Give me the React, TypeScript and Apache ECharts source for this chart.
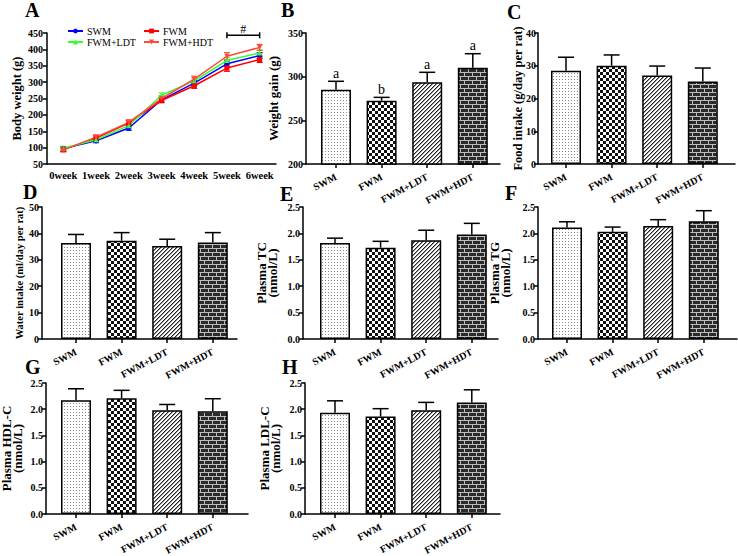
import React, { useEffect, useRef } from 'react';
import * as echarts from 'echarts';

// ---------- data ----------
const weeks = ['0week', '1week', '2week', '3week', '4week', '5week', '6week'];
const groups = ['SWM', 'FWM', 'FWM+LDT', 'FWM+HDT'];

// Panel A: body weight (g)
const bwSWM = [97, 121, 160, 246, 297, 356, 381];
const bwFWM = [94, 129, 175, 244, 289, 343, 369];
const bwLDT = [98, 124, 167, 260, 304, 366, 389];
const bwHDT = [93, 132, 177, 250, 309, 379, 406];
const sdSWM = [6, 6, 7, 7, 8, 9, 9];
const sdFWM = [6, 7, 8, 7, 8, 10, 9];
const sdLDT = [6, 6, 7, 7, 8, 9, 9];
const sdHDT = [6, 7, 8, 8, 9, 11, 9];
const bracket = [5, 6, 443]; // '#' between 5week and 6week at 443 g

// Panel B: weight gain (g)
const gainMean = [285, 272.5, 293.5, 310.3];
const gainSd = [9.7, 3.8, 11.5, 16];
const gainLetters = ['a', 'b', 'a', 'a'];
// Panel C: food intake
const foodMean = [28.5, 30.0, 27.0, 25.2];
const foodSd = [4.1, 3.3, 2.9, 4.1];
// Panel D: water intake
const waterMean = [36.4, 37.2, 35.2, 36.6];
const waterSd = [3.2, 3.1, 2.6, 3.7];
// Panel E: plasma TC
const tcMean = [1.82, 1.73, 1.87, 1.98];
const tcSd = [0.09, 0.12, 0.19, 0.21];
// Panel F: plasma TG
const tgMean = [2.11, 2.03, 2.14, 2.23];
const tgSd = [0.11, 0.09, 0.12, 0.2];
// Panel G: plasma HDL-C
const hdlMean = [2.17, 2.21, 1.98, 1.96];
const hdlSd = [0.22, 0.15, 0.11, 0.24];
// Panel H: plasma LDL-C
const ldlMean = [1.93, 1.86, 1.98, 2.13];
const ldlSd = [0.23, 0.15, 0.15, 0.24];

// ---------- style / layout ----------
const FONT = '"Liberation Serif", "Times New Roman", serif';
const lineColors = ['#0000ff', '#ff0000', '#33ff33', '#ff4a3a'];
const lineSymbols = ['circle', 'rect', 'triangle', 'path://M0,0L10,0L5,9Z'];
const S = 45.6; // px between bar centres

const barPanels = [
  { mean: gainMean, sd: gainSd, letters: gainLetters, name: 'Weight gain (g)', nfs: 13, min: 200, max: 350, interval: 50, dec: 0, ax: 306, end: 500, c0: 336, top: 33, bottom: 164, gap: 27, lm: 3 },
  { mean: foodMean, sd: foodSd, name: 'Food intake (g/day per rat)', nfs: 12.5, min: 0, max: 40, interval: 10, dec: 0, ax: 538, end: 735, c0: 566, top: 33, bottom: 164, gap: 15, lm: 2 },
  { mean: waterMean, sd: waterSd, name: 'Water intake (ml/day per rat)', nfs: 10.5, min: 0, max: 50, interval: 10, dec: 0, ax: 42, end: 237, c0: 76, top: 207, bottom: 339, gap: 17, lm: 3 },
  { mean: tcMean, sd: tcSd, name: 'Plasma TC\n(nmol/L)', nfs: 13, min: 0, max: 2.5, interval: 0.5, dec: 1, ax: 303, end: 498, c0: 335, top: 207, bottom: 339, gap: 25, lm: 3 },
  { mean: tgMean, sd: tgSd, name: 'Plasma TG\n(nmol/L)', nfs: 13, min: 0, max: 2.5, interval: 0.5, dec: 1, ax: 538, end: 737, c0: 567, top: 207, bottom: 339, gap: 27, lm: 3 },
  { mean: hdlMean, sd: hdlSd, name: 'Plasma HDL-C\n(nmol/L)', nfs: 13, min: 0, max: 2.5, interval: 0.5, dec: 1, ax: 46, end: 248, c0: 76, top: 383, bottom: 514, gap: 23, lm: 3 },
  { mean: ldlMean, sd: ldlSd, name: 'Plasma LDL-C\n(nmol/L)', nfs: 13, min: 0, max: 2.5, interval: 0.5, dec: 1, ax: 305, end: 500, c0: 335, top: 383, bottom: 514, gap: 24, lm: 3 },
];

const panelLetters: [string, number, number][] = [
  ['A', 25, 2.5], ['B', 281, 2.5], ['C', 507, 4], ['D', 23, 184],
  ['E', 280, 186.5], ['F', 505, 185], ['G', 25, 359], ['H', 282, 359],
];

const axisLineStyle = { color: '#000', width: 1.5 };
const labelStyle = { color: '#000', fontFamily: FONT, fontWeight: 'bold', fontSize: 10 };

export default function App() {
  const ref = useRef<HTMLDivElement>(null);
  useEffect(() => {
    document.body.style.margin = '0';
    const chart = echarts.init(ref.current!, null, { renderer: 'svg' });

    const tile = (w: number, h: number, draw: (c: CanvasRenderingContext2D) => void) => {
      const cv = document.createElement('canvas');
      cv.width = w;
      cv.height = h;
      const ctx = cv.getContext('2d')!;
      draw(ctx);
      return { image: cv.toDataURL(), repeat: 'repeat', imageWidth: w, imageHeight: h };
    };
    const patterns = [
      tile(3, 3, (c) => { c.fillStyle = '#fff'; c.fillRect(0, 0, 3, 3); c.fillStyle = '#8a8a8a'; c.fillRect(1, 1, 1, 1); }),
      tile(6, 6, (c) => { c.fillStyle = '#fff'; c.fillRect(0, 0, 6, 6); c.fillStyle = '#111'; c.fillRect(0, 0, 3, 3); c.fillRect(3, 3, 3, 3); }),
      tile(4, 4, (c) => {
        c.fillStyle = '#fff'; c.fillRect(0, 0, 4, 4);
        for (let i = 0; i < 4; i++) { c.fillStyle = '#222'; c.fillRect(i, 3 - i, 1, 1); c.fillStyle = '#999'; c.fillRect(i, (4 - i) % 4, 1, 1); }
      }),
      tile(8, 8, (c) => {
        c.fillStyle = '#2a2a2a'; c.fillRect(0, 0, 8, 8);
        c.fillStyle = '#bdbdbd';
        c.fillRect(0, 0, 8, 1); c.fillRect(0, 4, 8, 1); c.fillRect(0, 1, 1, 3); c.fillRect(4, 5, 1, 3);
      }),
    ];

    const grids: any[] = [];
    const xAxes: any[] = [];
    const yAxes: any[] = [];
    const series: any[] = [];

    // ----- Panel A -----
    grids.push({ left: 47, top: 33, width: 229, height: 131, outerBoundsMode: 'none' });
    xAxes.push({
      type: 'category', gridIndex: 0, data: weeks, boundaryGap: true,
      axisLine: { onZero: false, lineStyle: axisLineStyle },
      axisTick: { alignWithLabel: true, length: 4, lineStyle: axisLineStyle },
      axisLabel: { ...labelStyle, fontSize: 10.5, margin: 6, interval: 0 },
      splitLine: { show: false },
    });
    yAxes.push({
      type: 'value', gridIndex: 0, min: 50, max: 450, interval: 50,
      axisLine: { show: true, onZero: false, lineStyle: axisLineStyle },
      axisTick: { show: true, length: 4, lineStyle: axisLineStyle },
      axisLabel: { ...labelStyle, margin: 4 },
      splitLine: { show: false },
      name: 'Body weight (g)', nameLocation: 'middle', nameGap: 24, nameMoveOverlap: false,
      nameTextStyle: { color: '#000', fontFamily: FONT, fontWeight: 'bold', fontSize: 12.5 },
    });
    const aMeans = [bwSWM, bwFWM, bwLDT, bwHDT];
    const aSds = [sdSWM, sdFWM, sdLDT, sdHDT];
    aMeans.forEach((d, k) => {
      const col = lineColors[k];
      series.push({
        type: 'custom', xAxisIndex: 0, yAxisIndex: 0, silent: true, z: 2,
        data: d.map((v, i) => [i, v - aSds[k][i], v + aSds[k][i]]),
        encode: { x: 0, y: [1, 2] },
        renderItem: (_p: any, api: any) => {
          const lo = api.coord([api.value(0), api.value(1)]);
          const hi = api.coord([api.value(0), api.value(2)]);
          const st = { stroke: col, lineWidth: 1.2 };
          return {
            type: 'group', children: [
              { type: 'line', shape: { x1: lo[0], y1: lo[1], x2: hi[0], y2: hi[1] }, style: st },
              { type: 'line', shape: { x1: lo[0] - 3, y1: lo[1], x2: lo[0] + 3, y2: lo[1] }, style: st },
              { type: 'line', shape: { x1: hi[0] - 3, y1: hi[1], x2: hi[0] + 3, y2: hi[1] }, style: st },
            ],
          };
        },
      });
      series.push({
        type: 'line', name: groups[k], xAxisIndex: 0, yAxisIndex: 0, data: d, z: 3,
        symbol: lineSymbols[k], symbolSize: 5, showAllSymbol: true,
        lineStyle: { color: col, width: 1.5 }, itemStyle: { color: col },
      });
    });
    series.push({
      type: 'custom', xAxisIndex: 0, yAxisIndex: 0, silent: true, z: 4,
      data: [bracket], encode: { x: [0, 1], y: 2 },
      renderItem: (_p: any, api: any) => {
        const a = api.coord([api.value(0), api.value(2)]);
        const b = api.coord([api.value(1), api.value(2)]);
        const st = { stroke: '#000', lineWidth: 1.5 };
        return {
          type: 'group', children: [
            { type: 'line', shape: { x1: a[0], y1: a[1], x2: b[0], y2: b[1] }, style: st },
            { type: 'line', shape: { x1: a[0], y1: a[1] - 3, x2: a[0], y2: a[1] + 3 }, style: st },
            { type: 'line', shape: { x1: b[0], y1: b[1] - 3, x2: b[0], y2: b[1] + 3 }, style: st },
            { type: 'text', x: (a[0] + b[0]) / 2, y: a[1], style: { text: '#', fill: '#000', font: `12px ${FONT}`, align: 'center', verticalAlign: 'bottom' } },
          ],
        };
      },
    });

    // ----- Bar panels -----
    barPanels.forEach((p, j) => {
      const gi = j + 1;
      const min = -(p.c0 - p.ax) / S;
      const max = min + (p.end - p.ax) / S;
      grids.push({ left: p.ax, top: p.top, width: p.end - p.ax, height: p.bottom - p.top, outerBoundsMode: 'none' });
      xAxes.push({
        type: 'value', gridIndex: gi, min, max,
        axisLine: { show: true, onZero: false, lineStyle: axisLineStyle },
        axisTick: { show: true, length: 4, lineStyle: axisLineStyle, customValues: [0, 1, 2, 3] },
        axisLabel: {
          ...labelStyle, rotate: 28, margin: 12, customValues: [0, 1, 2, 3],
          formatter: (v: number) => groups[Math.round(v)] ?? '',
        },
        splitLine: { show: false },
      });
      yAxes.push({
        type: 'value', gridIndex: gi, min: p.min, max: p.max, interval: p.interval,
        axisLine: { show: true, onZero: false, lineStyle: axisLineStyle },
        axisTick: { show: true, length: 4, lineStyle: axisLineStyle },
        axisLabel: { ...labelStyle, margin: p.lm, formatter: (v: number) => v.toFixed(p.dec) },
        splitLine: { show: false },
        name: p.name, nameLocation: 'middle', nameGap: p.gap, nameMoveOverlap: false,
        nameTextStyle: { color: '#000', fontFamily: FONT, fontWeight: 'bold', fontSize: p.nfs, lineHeight: 11 },
      });
      series.push({
        type: 'bar', xAxisIndex: gi, yAxisIndex: gi, barWidth: 30, z: 2, clip: true,
        data: p.mean.map((m, i) => ({ value: [i, m], itemStyle: { color: patterns[i] } })),
        itemStyle: { borderColor: '#000', borderWidth: 1.5 },
      });
      const letters = (p as any).letters as string[] | undefined;
      series.push({
        type: 'custom', xAxisIndex: gi, yAxisIndex: gi, silent: true, z: 3,
        data: p.mean.map((m, i) => [i, m, m + p.sd[i]]),
        encode: { x: 0, y: [1, 2] },
        renderItem: (params: any, api: any) => {
          const lo = api.coord([api.value(0), api.value(1)]);
          const hi = api.coord([api.value(0), api.value(2)]);
          const st = { stroke: '#000', lineWidth: 1.5 };
          const children: any[] = [
            { type: 'line', shape: { x1: lo[0], y1: lo[1], x2: hi[0], y2: hi[1] }, style: st },
            { type: 'line', shape: { x1: hi[0] - 8, y1: hi[1], x2: hi[0] + 8, y2: hi[1] }, style: st },
          ];
          if (letters) {
            children.push({
              type: 'text', x: hi[0], y: hi[1] - 1,
              style: { text: letters[params.dataIndex], fill: '#000', font: `14px ${FONT}`, align: 'center', verticalAlign: 'bottom' },
            });
          }
          return { type: 'group', children };
        },
      });
    });

    const legendPos = [[67, 26], [143, 26], [67, 37], [143, 37]];
    chart.setOption({
      animation: false,
      backgroundColor: '#fff',
      grid: grids,
      xAxis: xAxes,
      yAxis: yAxes,
      series,
      legend: groups.map((g, k) => ({
        data: [g], left: legendPos[k][0], top: legendPos[k][1], padding: 0, itemGap: 0,
        itemWidth: 15, itemHeight: 6, selectedMode: false,
        textStyle: { color: '#000', fontFamily: FONT, fontSize: 10, padding: [0, 0, 0, -1] },
      })),
      graphic: panelLetters.map(([t, x, y]) => ({
        type: 'text', x, y,
        style: { text: t, fill: '#000', font: `bold 20px ${FONT}`, lineHeight: 15, align: 'left', verticalAlign: 'top' },
      })),
    });
    return () => chart.dispose();
  }, []);
  return <div ref={ref} style={{ width: 738, height: 556 }} />;
}
